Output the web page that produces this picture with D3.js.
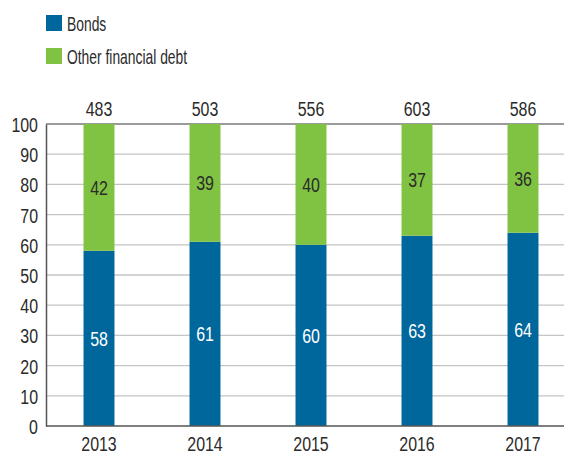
<!DOCTYPE html>
<html lang="en">
<head>
    <meta charset="UTF-8">
    <title>Bonds vs other financial debt</title>
    <script src="https://d3js.org/d3.v7.min.js"></script>
    <style>
        body { margin: 0; background: #fff; }
        text { font-family: "Liberation Sans", Arial, sans-serif; fill: #2b2b2b; }
    </style>
</head>
<body>
    <div id="my_dataviz"></div>
    <script>

    // data
    var years = ["2013", "2014", "2015", "2016", "2017"];
    var bonds = [58, 61, 60, 63, 64];
    var otherDebt = [42, 39, 40, 37, 36];
    var totals = [483, 503, 556, 603, 586];
    var seriesNames = ["Bonds", "Other financial debt"];
    var yTicks = [0, 10, 20, 30, 40, 50, 60, 70, 80, 90, 100];

    var colors = ["#00679c", "#80c242"];

    var W = 564, H = 453;
    var margin = {top: 124, right: 0, bottom: 27, left: 46};
    var squeeze = 0.76;   // fake a condensed face, no narrow font installed

    var svg = d3.select("#my_dataviz")
      .append("svg")
        .attr("width", W)
        .attr("height", H);

    var x = d3.scaleBand()
        .domain(years)
        .range([margin.left, margin.left + 530])
        .paddingInner(0.708)
        .paddingOuter(0.354);

    var y = d3.scaleLinear()
        .domain([0, 100])
        .range([H - margin.bottom, margin.top]);

    // put text at (px,py) squeezed horizontally
    function place(sel, px, py, k) {
        sel.attr("x", 0).attr("y", 0)
           .attr("transform", function(d, i) {
               return "translate(" + px(d, i) + "," + py(d, i) + ") scale(" + (k || squeeze) + ",1)";
           });
    }

    // gridlines
    svg.append("g")
      .selectAll("line")
      .data(yTicks.filter(function(t) { return t > 0 && t < 100; }))
      .enter().append("line")
        .attr("x1", margin.left)
        .attr("x2", W)
        .attr("y1", function(d) { return y(d); })
        .attr("y2", function(d) { return y(d); })
        .attr("stroke", "#c4c4c4")
        .attr("stroke-width", 1.3);

    // top line at 100
    svg.append("line")
        .attr("x1", margin.left).attr("x2", W)
        .attr("y1", y(100)).attr("y2", y(100))
        .attr("stroke", "#7a7a7a").attr("stroke-width", 1.5);

    // stacked data
    var rows = years.map(function(yr, i) {
        return {year: yr, bonds: bonds[i], other: otherDebt[i], total: totals[i]};
    });
    var stack = d3.stack().keys(["bonds", "other"])(rows);

    var layers = svg.append("g")
      .selectAll("g")
      .data(stack)
      .enter().append("g")
        .attr("fill", function(d, i) { return colors[i]; });

    layers.selectAll("rect")
      .data(function(d) { return d; })
      .enter().append("rect")
        .attr("x", function(d) { return x(d.data.year); })
        .attr("width", x.bandwidth())
        .attr("y", function(d) { return y(d[1]); })
        .attr("height", function(d) { return y(d[0]) - y(d[1]); });

    // value labels inside the segments
    stack.forEach(function(layer, li) {
        svg.append("g")
          .selectAll("text")
          .data(layer)
          .enter().append("text")
            .attr("text-anchor", "middle")
            .style("font-size", "21px")
            .style("fill", li === 0 ? "#fff" : "#2b2b2b")
            .text(function(d) { return d[1] - d[0]; })
            .call(place,
                  function(d) { return x(d.data.year) + x.bandwidth() / 2; },
                  function(d) { return (y(d[0]) + y(d[1])) / 2 + 7.5; });
    });

    // totals above bars
    svg.append("g")
      .selectAll("text")
      .data(rows)
      .enter().append("text")
        .attr("text-anchor", "middle")
        .style("font-size", "21px")
        .text(function(d) { return d.total; })
        .call(place,
              function(d) { return x(d.year) + x.bandwidth() / 2; },
              function() { return y(100) - 8; });

    // y axis
    var yAxis = svg.append("g")
        .attr("transform", "translate(" + margin.left + ",0)")
        .call(d3.axisLeft(y).tickValues(yTicks).tickSize(0).tickPadding(8));
    yAxis.select(".domain").attr("stroke", "#555").attr("stroke-width", 1.5);
    yAxis.selectAll("text")
        .style("font-size", "21px").style("fill", "#2b2b2b")
        .attr("dy", null)
        .call(place, function() { return -8; }, function() { return 7.5; });

    // x axis
    var xAxis = svg.append("g")
        .attr("transform", "translate(0," + y(0) + ")")
        .call(d3.axisBottom(x).tickSize(0).tickPadding(8));
    xAxis.select(".domain").remove();
    xAxis.selectAll("text")
        .style("font-size", "21px").style("fill", "#2b2b2b")
        .attr("dy", null)
        .call(place, function() { return 0; }, function() { return 25; });
    svg.append("line")
        .attr("x1", margin.left).attr("x2", W)
        .attr("y1", y(0)).attr("y2", y(0))
        .attr("stroke", "#555").attr("stroke-width", 1.5);

    // legend
    var legend = svg.append("g")
      .selectAll("g")
      .data(seriesNames)
      .enter().append("g")
        .attr("transform", function(d, i) { return "translate(46," + (15 + i * 33) + ")"; });
    legend.append("rect")
        .attr("width", 16).attr("height", 16)
        .attr("fill", function(d, i) { return colors[i]; });
    legend.append("text")
        .style("font-size", "21px")
        .text(function(d) { return d; })
        .call(place, function() { return 21; }, function() { return 16; }, 0.66);

    </script>
</body>
</html>
